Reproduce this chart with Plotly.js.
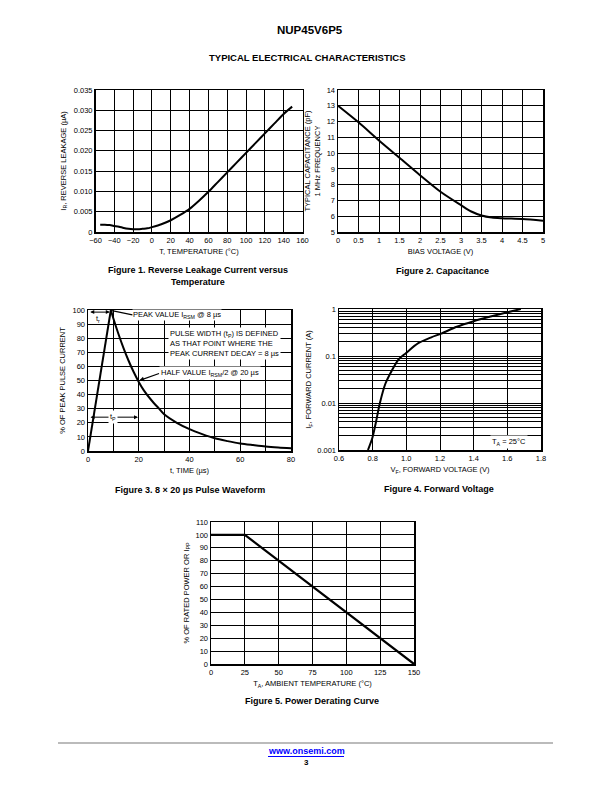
<!DOCTYPE html>
<html><head><meta charset="utf-8">
<script src="https://cdn.plot.ly/plotly-3.0.1.min.js"></script>
<style>html,body{margin:0;padding:0;background:#fff}</style>
</head><body><div id="chart" style="width:612px;height:792px"></div>
<script>
// ---------- Figure 1: Reverse leakage vs temperature ----------
const fig1Temp = [-55, -50, -45, -40, -35, -30, -25, -20, -15, -10, -5, 0, 10, 20, 30, 40, 50, 60, 70, 80, 90, 100, 110, 120, 130, 140, 149];
const fig1Leak = [0.0018, 0.0018, 0.0017, 0.0015, 0.0013, 0.0010, 0.0008, 0.0007, 0.0007, 0.0008, 0.0009, 0.0012, 0.0019, 0.0029, 0.0042, 0.0057, 0.0077, 0.0099, 0.0123, 0.0147, 0.0171, 0.0195, 0.0219, 0.0243, 0.0267, 0.0291, 0.0309];
const fig1XTicks = [-60, -40, -20, 0, 20, 40, 60, 80, 100, 120, 140, 160];
const fig1YTicks = [0, 0.005, 0.010, 0.015, 0.020, 0.025, 0.030, 0.035];
const fig1YTickText = ['0', '0.005', '0.010', '0.015', '0.020', '0.025', '0.030', '0.035'];

// ---------- Figure 2: Capacitance ----------
const fig2Bias = [0, 0.5, 1, 1.5, 2, 2.5, 3, 3.25, 3.5, 3.75, 4, 4.5, 5];
const fig2Cap = [13.0, 11.95, 10.8, 9.7, 8.6, 7.55, 6.7, 6.3, 6.05, 5.92, 5.87, 5.82, 5.72];
const fig2XTicks = [0, 0.5, 1, 1.5, 2, 2.5, 3, 3.5, 4, 4.5, 5];
const fig2XTickText = ['0', '0.5', '1', '1.5', '2', '2.5', '3', '3.5', '4', '4.5', '5'];
const fig2YTicks = [5, 6, 7, 8, 9, 10, 11, 12, 13, 14];

// ---------- Figure 3: 8 x 20 us pulse waveform ----------
const fig3RiseTime = [0, 9];
const fig3RisePct = [0, 100];
const fig3DecayTime = [9, 10, 12, 14, 16, 18, 20, 22, 25, 28, 30, 35, 40, 45, 50, 55, 60, 65, 70, 75, 80];
const fig3DecayPct = [100, 94, 83, 73, 64, 56, 49, 43, 36, 30, 26, 20, 15.5, 12, 9, 7, 5.3, 4.2, 3.2, 2.5, 2];
const fig3XTicks = [0, 20, 40, 60, 80];
const fig3XGrid = [10, 30, 50, 70];
const fig3YTicks = [0, 10, 20, 30, 40, 50, 60, 70, 80, 90, 100];

// ---------- Figure 4: Forward voltage ----------
const fig4Volt = [0.772, 0.798, 0.82, 0.843, 0.876, 0.915, 0.954, 0.997, 1.071, 1.148, 1.207, 1.3, 1.4, 1.5, 1.6, 1.68];
const fig4Curr = [0.001, 0.0018, 0.004, 0.01, 0.026, 0.05, 0.085, 0.115, 0.187, 0.25, 0.30, 0.42, 0.55, 0.69, 0.85, 1.0];
const fig4XTicks = [0.6, 0.8, 1.0, 1.2, 1.4, 1.6, 1.8];
const fig4XTickText = ['0.6', '0.8', '1.0', '1.2', '1.4', '1.6', '1.8'];
const fig4YTicks = [0.001, 0.01, 0.1, 1];
const fig4YTickText = ['0.001', '0.01', '0.1', '1'];
const fig4MinorTicks = [0.002, 0.003, 0.004, 0.005, 0.006, 0.007, 0.008, 0.009,
  0.02, 0.03, 0.04, 0.05, 0.06, 0.07, 0.08, 0.09,
  0.2, 0.3, 0.4, 0.5, 0.6, 0.7, 0.8, 0.9];

// ---------- Figure 5: Power derating ----------
const fig5Temp = [0, 25, 150];
const fig5Pct = [100, 100, 0];
const fig5XTicks = [0, 25, 50, 75, 100, 125, 150];
const fig5YTicks = [0, 10, 20, 30, 40, 50, 60, 70, 80, 90, 100, 110];

// ---------- drawing ----------
const FONT = 'Liberation Sans, Arial, Helvetica, sans-serif';
const W = 612, H = 792;
const px = v => v / W;
const py = v => 1 - v / H;

function axis(domain, anchor, range, tickvals, ticktext, title, standoff, extra) {
  const a = {
    domain: domain, anchor: anchor, range: range,
    tickmode: 'array', tickvals: tickvals,
    showline: true, mirror: true, linecolor: '#000', linewidth: 1.5,
    showgrid: true, gridcolor: '#000', gridwidth: 1,
    zeroline: false, ticks: '', fixedrange: true,
    tickfont: {family: FONT, size: 7.5, color: '#000'},
    title: {text: title, font: {family: FONT, size: 7.5, color: '#000'}, standoff: standoff}
  };
  if (ticktext) a.ticktext = ticktext;
  return Object.assign(a, extra || {});
}

const lineStyle = {color: '#000', width: 2};
const data = [
  {x: fig1Temp, y: fig1Leak, xaxis: 'x', yaxis: 'y', mode: 'lines', line: Object.assign({shape: 'spline', smoothing: 0.8}, lineStyle)},
  {x: fig2Bias, y: fig2Cap, xaxis: 'x2', yaxis: 'y2', mode: 'lines', line: Object.assign({shape: 'spline', smoothing: 0.8}, lineStyle)},
  {x: fig3RiseTime, y: fig3RisePct, xaxis: 'x3', yaxis: 'y3', mode: 'lines', line: lineStyle},
  {x: fig3DecayTime, y: fig3DecayPct, xaxis: 'x3', yaxis: 'y3', mode: 'lines', line: Object.assign({shape: 'spline', smoothing: 0.8}, lineStyle)},
  {x: fig4Volt, y: fig4Curr, xaxis: 'x4', yaxis: 'y4', mode: 'lines', line: Object.assign({shape: 'spline', smoothing: 0.8}, lineStyle)},
  {x: fig5Temp, y: fig5Pct, xaxis: 'x5', yaxis: 'y5', mode: 'lines', line: {color: '#000', width: 2.2}}
];

const d1x = [px(95.5), px(302.5)], d1y = [py(232), py(90)];
const d2x = [px(338), px(543)], d2y = [py(232), py(90)];
const d3x = [px(88), px(291)], d3y = [py(451), py(310)];
const d4x = [px(339), px(541)], d4y = [py(450), py(309)];
const d5x = [px(211), px(414)], d5y = [py(664), py(522)];

const txt = (x, y, text, size, bold, extra) => Object.assign({
  xref: 'paper', yref: 'paper', x: px(x), y: py(y), text: bold ? '<b>' + text + '</b>' : text,
  showarrow: false, xanchor: 'center', yanchor: 'middle',
  font: {family: FONT, size: size, color: '#000'}
}, extra || {});

const annFont = {family: FONT, size: 7.5, color: '#000'};
const layout = {
  width: W, height: H, margin: {l: 0, r: 0, t: 0, b: 0},
  paper_bgcolor: '#fff', plot_bgcolor: '#fff', showlegend: false,
  xaxis: axis(d1x, 'y', [-60, 160], fig1XTicks, null, 'T, TEMPERATURE (°C)', 5),
  yaxis: axis(d1y, 'x', [0, 0.035], fig1YTicks, fig1YTickText, 'I<sub>R</sub>, REVERSE LEAKAGE (µA)', 6),
  xaxis2: axis(d2x, 'y2', [0, 5], fig2XTicks, fig2XTickText, 'BIAS VOLTAGE (V)', 5),
  yaxis2: axis(d2y, 'x2', [5, 14], fig2YTicks, null, 'TYPICAL CAPACITANCE (pF)<br>1 MHz FREQUENCY', 5),
  xaxis3: axis(d3x, 'y3', [0, 80], fig3XTicks, null, 't, TIME (µs)', 5,
    {minor: {tickmode: 'array', tickvals: fig3XGrid, showgrid: true, gridcolor: '#000', gridwidth: 1, ticks: ''}}),
  yaxis3: axis(d3y, 'x3', [0, 100], fig3YTicks, null, '% OF PEAK PULSE CURRENT', 6),
  xaxis4: axis(d4x, 'y4', [0.6, 1.8], fig4XTicks, fig4XTickText, 'V<sub>F</sub>, FORWARD VOLTAGE (V)', 5),
  yaxis4: axis(d4y, 'x4', [-3, 0], fig4YTicks, fig4YTickText, 'I<sub>F</sub>, FORWARD CURRENT (A)', 4,
    {type: 'log', minor: {tickmode: 'array', tickvals: fig4MinorTicks, showgrid: true, gridcolor: '#000', gridwidth: 1, ticks: ''}}),
  xaxis5: axis(d5x, 'y5', [0, 150], fig5XTicks, null, 'T<sub>A</sub>, AMBIENT TEMPERATURE (°C)', 5),
  yaxis5: axis(d5y, 'x5', [0, 110], fig5YTicks, null, '% OF RATED POWER OR I<sub>PP</sub>', 5),
  shapes: [
    {type: 'line', xref: 'x4', yref: 'y4', x0: 1.43, x1: 1.77, y0: Math.log10(0.0015), y1: Math.log10(0.0015), line: {color: '#000', width: 1}},
    {type: 'line', xref: 'paper', yref: 'paper', x0: px(58), x1: px(553), y0: py(743), y1: py(743), line: {color: '#bbb', width: 2}},
    {type: 'line', xref: 'paper', yref: 'paper', x0: px(268), x1: px(344), y0: py(756.5), y1: py(756.5), line: {color: '#00f', width: 1}}
  ],
  annotations: [
    txt(310, 30, 'NUP45V6P5', 11.5, true),
    txt(307, 58, 'TYPICAL ELECTRICAL CHARACTERISTICS', 9.5, true),
    txt(198, 270, 'Figure 1. Reverse Leakage Current versus', 9, true),
    txt(198, 282, 'Temperature', 9, true),
    txt(442, 271, 'Figure 2. Capacitance', 9, true),
    txt(190, 490, 'Figure 3. 8 × 20 µs Pulse Waveform', 9, true),
    txt(439, 489, 'Figure 4. Forward Voltage', 9, true),
    txt(312, 701, 'Figure 5. Power Derating Curve', 9, true),
    txt(306, 751, 'www.onsemi.com', 9, true, {font: {family: FONT, size: 9, color: '#00f'}}),
    txt(306, 762, '3', 8, true),
    // Figure 3 annotations
    {xref: 'x3', yref: 'y3', x: 9.4, y: 99.5, axref: 'x3', ayref: 'y3', ax: 17.5, ay: 96.5,
     text: 'PEAK VALUE I<sub>RSM</sub> @ 8 µs', xanchor: 'left', yanchor: 'middle', showarrow: true,
     arrowhead: 0, arrowwidth: 1.2, arrowcolor: '#000', standoff: 0, font: annFont, bgcolor: '#fff', borderpad: 0},
    {xref: 'x3', yref: 'y3', x: 8.6, y: 98.5, axref: 'x3', ayref: 'y3', ax: 0.3, ay: 98.5, text: '',
     showarrow: true, arrowside: 'end+start', arrowhead: 2, arrowsize: 0.8, arrowwidth: 1, arrowcolor: '#000'},
    {xref: 'x3', yref: 'y3', x: 4, y: 93.5, text: 't<sub>r</sub>', showarrow: false, font: annFont},
    {xref: 'x3', yref: 'y3', x: 31.5, y: 76, xanchor: 'left', yanchor: 'middle', align: 'left',
     text: 'PULSE WIDTH (t<sub>P</sub>) IS DEFINED<br>AS THAT POINT WHERE THE<br>PEAK CURRENT DECAY = 8 µs',
     showarrow: false, bgcolor: '#fff', borderpad: 1, font: annFont},
    {xref: 'x3', yref: 'y3', x: 20.2, y: 50, axref: 'x3', ayref: 'y3', ax: 28, ay: 55,
     text: 'HALF VALUE I<sub>RSM</sub>/2 @ 20 µs', xanchor: 'left', yanchor: 'middle', showarrow: true,
     arrowhead: 2, arrowsize: 0.8, arrowwidth: 1.2, arrowcolor: '#000', standoff: 0, font: annFont, bgcolor: '#fff', borderpad: 1},
    {xref: 'x3', yref: 'y3', x: 19.7, y: 24, axref: 'x3', ayref: 'y3', ax: 0.4, ay: 24, text: '',
     showarrow: true, arrowside: 'end+start', arrowhead: 2, arrowsize: 0.8, arrowwidth: 1, arrowcolor: '#000'},
    {xref: 'x3', yref: 'y3', x: 10, y: 24, text: 't<sub>P</sub>', showarrow: false, font: annFont, bgcolor: '#fff', borderpad: 1},
    // Figure 4 annotation
    {xref: 'x4', yref: 'y4', x: 1.612, y: Math.log10(0.0015), text: 'T<sub>A</sub> = 25°C', showarrow: false,
     font: annFont, bgcolor: '#fff', borderpad: 1}
  ]
};

Plotly.newPlot('chart', data, layout, {staticPlot: true, displayModeBar: false});
</script></body></html>
